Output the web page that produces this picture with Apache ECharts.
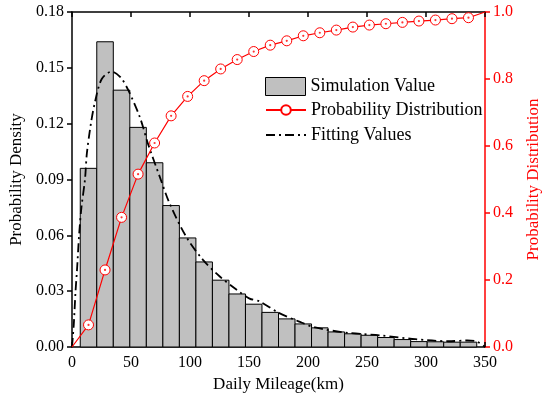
<!DOCTYPE html>
<html>
<head>
<meta charset="utf-8">
<script src="https://cdn.jsdelivr.net/npm/echarts@6/dist/echarts.min.js"></script>
<style>html,body{margin:0;padding:0;background:#fff}#c{width:550px;height:399px}</style>
</head>
<body>
<div id="c"></div>
<script>
// Histogram bins (km)
const binLeft  = [7,21,35,49,63,77,91,105,119,133,147,161,175,189,203,217,231,245,259,273,287,301,315,329];
const binRight = [21,35,49,63,77,91,105,119,133,147,161,175,189,203,217,231,245,259,273,287,301,315,329,343];
const density  = [0.096,0.164,0.138,0.118,0.099,0.076,0.0586,0.0457,0.0359,0.0285,0.0230,0.0186,0.0151,0.0124,0.0103,0.0081,0.0071,0.0063,0.0051,0.0040,0.0029,0.0028,0.0026,0.0026];

// Cumulative probability distribution
const cdfX = [0,14,28,42,56,70,84,98,112,126,140,154,168,182,196,210,224,238,252,266,280,294,308,322,336,350];
const cdfY = [0,0.066,0.230,0.387,0.516,0.609,0.690,0.748,0.795,0.830,0.858,0.882,0.901,0.914,0.929,0.938,0.946,0.955,0.961,0.965,0.969,0.973,0.976,0.980,0.983,1.0];

// Fitting curve
const fitX = [0,1.5,3,4.2,6,8,11,12.6,16,19.6,25.2,33.6,41,47.7,57.5,64.5,74.4,82.8,97,111,125,139,150.5,159,175,192,206,234,262,291,319,335,343,350];
const fitY = [0,0.012,0.03,0.041,0.06,0.075,0.09,0.104,0.12,0.132,0.144,0.148,0.145,0.138,0.1235,0.109,0.0914,0.077,0.059,0.0468,0.038,0.031,0.026,0.0245,0.0184,0.0138,0.0105,0.0076,0.0062,0.0042,0.0031,0.0035,0.003,0];

const FONT = "'Liberation Serif','Times New Roman',serif";
const chart = echarts.init(document.getElementById('c'), null, {renderer:'canvas'});

const histData = binLeft.map((l,i)=>[l, binRight[i], density[i]]);
const cdfData = cdfX.map((x,i)=>{
  const d = {value:[x, cdfY[i]]};
  if (i===0 || i===cdfX.length-1) d.symbol = 'none';
  return d;
});
const fitData = fitX.map((x,i)=>[x, fitY[i]]);
const legendText = {fontFamily:FONT, fontSize:18, color:'#000'};

chart.setOption({
  animation:false,
  textStyle:{fontFamily:FONT},
  grid:{left:72, right:62, top:12, bottom:52},
  legend:[
    {left:265, top:77, padding:0, orient:'vertical', itemGap:6, itemWidth:40, itemHeight:18,
     textStyle:legendText,
     data:[{name:'Simulation Value', icon:'rect', itemStyle:{color:'#c0c0c0', borderColor:'#000', borderWidth:1}}]},
    {left:265, top:101, padding:0, orient:'vertical', itemGap:7, itemWidth:40, itemHeight:12,
     textStyle:legendText,
     data:[
       {name:'Probability Distribution'},
       {name:'Fitting Values', itemStyle:{color:'rgba(0,0,0,0)', borderColor:'rgba(0,0,0,0)', borderWidth:0}}
     ]}
  ],
  xAxis:[
    {type:'value', min:0, max:350, interval:50, position:'bottom',
     name:'Daily Mileage(km)', nameLocation:'middle', nameGap:29,
     nameTextStyle:{fontFamily:FONT, fontSize:17, color:'#000'},
     axisLine:{onZero:false, lineStyle:{color:'#000', width:1.5}},
     axisTick:{inside:true, length:5, lineStyle:{color:'#000', width:1.5}},
     axisLabel:{fontFamily:FONT, fontSize:16, color:'#000', margin:8},
     splitLine:{show:false}},
    {type:'value', min:0, max:350, interval:50, position:'top',
     axisLine:{show:true, onZero:false, lineStyle:{color:'#000', width:1.5}},
     axisTick:{show:true, inside:true, length:5, lineStyle:{color:'#000', width:1.5}},
     axisLabel:{show:false}, splitLine:{show:false}}
  ],
  yAxis:[
    {type:'value', min:0, max:0.18, interval:0.03, position:'left',
     name:'Probability Density', nameLocation:'middle', nameGap:47,
     nameTextStyle:{fontFamily:FONT, fontSize:17, color:'#000'},
     axisLine:{show:true, onZero:false, lineStyle:{color:'#000', width:1.5}},
     axisTick:{show:true, inside:false, length:5, lineStyle:{color:'#000', width:1.5}},
     axisLabel:{fontFamily:FONT, fontSize:16, color:'#000', margin:8, formatter:(v)=>v.toFixed(2)},
     splitLine:{show:false}},
    {type:'value', min:0, max:1, interval:0.2, position:'right',
     name:'Probability Distribution', nameLocation:'middle', nameGap:40,
     nameTextStyle:{fontFamily:FONT, fontSize:17, color:'#ff0000'},
     axisLine:{show:true, onZero:false, lineStyle:{color:'#ff0000', width:1.5}},
     axisTick:{show:true, inside:false, length:5, lineStyle:{color:'#ff0000', width:1.5}},
     axisLabel:{fontFamily:FONT, fontSize:16, color:'#ff0000', margin:8, formatter:(v)=>v.toFixed(1)},
     splitLine:{show:false}}
  ],
  series:[
    {name:'Simulation Value', type:'custom', xAxisIndex:0, yAxisIndex:0,
     itemStyle:{color:'#c0c0c0', borderColor:'#000', borderWidth:1},
     encode:{x:[0,1], y:2},
     data:histData,
     renderItem:function(params, api){
       const p0 = api.coord([api.value(0), api.value(2)]);
       const p1 = api.coord([api.value(1), 0]);
       return {type:'rect', shape:{x:p0[0], y:p0[1], width:p1[0]-p0[0], height:p1[1]-p0[1]},
         style:{fill:'#c0c0c0', stroke:'#000', lineWidth:1}};
     }, z:1},
    {name:'Probability Distribution', type:'line', xAxisIndex:0, yAxisIndex:1,
     data:cdfData, symbol:'circle', symbolSize:10, showAllSymbol:true,
     lineStyle:{color:'#ff0000', width:1.2},
     itemStyle:{color:'#fff', borderColor:'#ff0000', borderWidth:1},
     z:3},
    {name:'cdfDots', type:'scatter', xAxisIndex:0, yAxisIndex:1,
     data:cdfData.slice(1,-1).map(d=>d.value), symbol:'circle', symbolSize:2.2,
     itemStyle:{color:'#ff0000'}, z:4, silent:true},
    {name:'Fitting Values', type:'line', xAxisIndex:0, yAxisIndex:0,
     data:fitData, symbol:'none', smooth:0.3,
     lineStyle:{color:'#000', width:1.8, type:[9,4,2,4]},
     itemStyle:{color:'#000'}, z:2}
  ]
});
</script>
</body>
</html>
